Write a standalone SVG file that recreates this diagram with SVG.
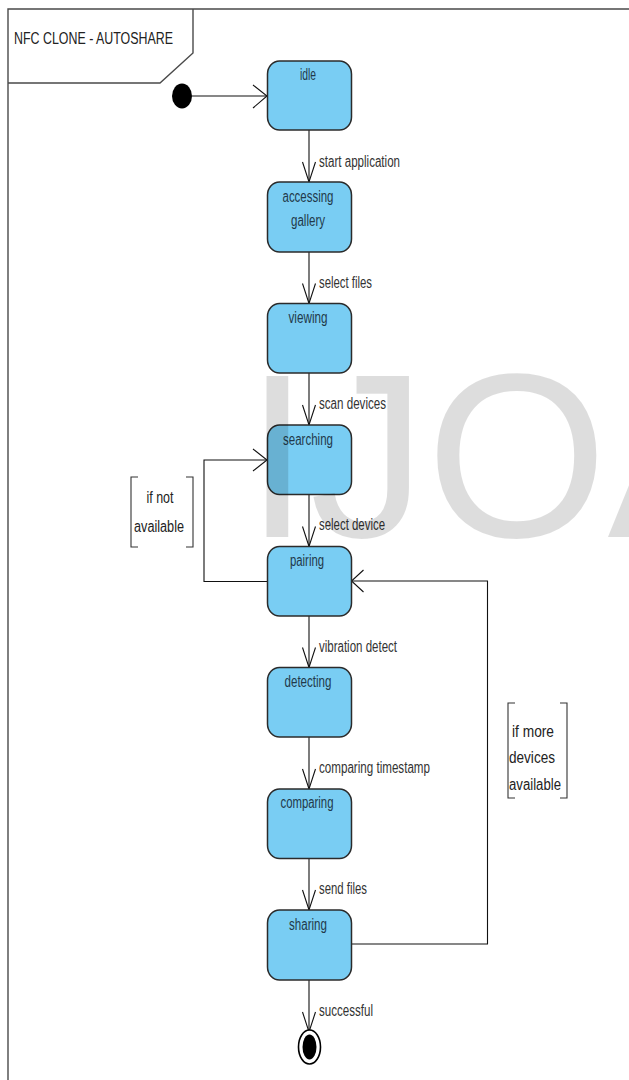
<svg xmlns="http://www.w3.org/2000/svg" width="629" height="1080" viewBox="0 0 629 1080">
<style>
.frame{fill:none;stroke:#4a4a4a;stroke-width:1.4}
.state{fill:#79cdf3;stroke:#2b2b2b;stroke-width:1.5}
.sname{font-family:"Liberation Sans",Arial,sans-serif;font-size:16px;fill:#22394a;text-anchor:middle}
.elabel{font-family:"Liberation Sans",Arial,sans-serif;font-size:16px;fill:#333}
.guard{font-family:"Liberation Sans",Arial,sans-serif;font-size:16px;fill:#222}
.title{font-family:"Liberation Sans",Arial,sans-serif;font-size:16px;fill:#222}
.conn{fill:none;stroke:#111;stroke-width:1.1}
.brk{fill:none;stroke:#333;stroke-width:1.1}
.wm{font-family:"Liberation Sans",Arial,sans-serif;font-size:233px;fill:#000;fill-opacity:0.135}
</style>
<rect width="629" height="1080" fill="#fff"/>
<g id="frame">
<path class="frame" d="M8,1080 L8,9 L629,9"/>
<path class="frame" d="M8,83 L160,83 L193,53 L193,9"/>
<text class="title" x="14" y="44" textLength="159" lengthAdjust="spacingAndGlyphs">NFC CLONE - AUTOSHARE</text>
</g>
<g id="connectors">
<path class="conn" d="M192,96 L267,96"/><path class="conn" d="M253,85 L267,96 L253,108"/>
<path class="conn" d="M309,130 L309,182"/><path class="conn" d="M302.5,162 L309,182 L315.5,162"/>
<path class="conn" d="M309,252 L309,303.5"/><path class="conn" d="M302.5,283.5 L309,303.5 L315.5,283.5"/>
<path class="conn" d="M309,373 L309,425"/><path class="conn" d="M302.5,405 L309,425 L315.5,405"/>
<path class="conn" d="M309,494.5 L309,546.5"/><path class="conn" d="M302.5,526.5 L309,546.5 L315.5,526.5"/>
<path class="conn" d="M309,616 L309,667.5"/><path class="conn" d="M302.5,647.5 L309,667.5 L315.5,647.5"/>
<path class="conn" d="M309,737 L309,789"/><path class="conn" d="M302.5,769 L309,789 L315.5,769"/>
<path class="conn" d="M309,858.5 L309,910"/><path class="conn" d="M302.5,890 L309,910 L315.5,890"/>
<path class="conn" d="M309,980 L309,1032"/><path class="conn" d="M302.5,1012 L309,1032 L315.5,1012"/>
<path class="conn" d="M267,581.5 L204,581.5 L204,460 L267,460"/><path class="conn" d="M253,449 L267,460 L253,471"/>
<path class="conn" d="M351.5,944 L487.5,944 L487.5,581 L351.5,581"/><path class="conn" d="M363.5,570 L351.5,581 L363.5,592"/>
</g>
<g id="initial"><ellipse cx="182" cy="96" rx="10" ry="12.5" fill="#000"/></g>
<g id="idle"><rect class="state" x="267.5" y="61" width="84" height="69" rx="12" ry="13"/><text class="sname" x="308" y="80" textLength="16" lengthAdjust="spacingAndGlyphs">idle</text></g>
<g id="accessing-gallery"><rect class="state" x="267.5" y="182" width="84" height="70" rx="12" ry="13"/><text class="sname" x="308" y="202" textLength="51" lengthAdjust="spacingAndGlyphs">accessing</text><text class="sname" x="308" y="226" textLength="34" lengthAdjust="spacingAndGlyphs">gallery</text></g>
<g id="viewing"><rect class="state" x="267.5" y="303.5" width="84" height="69.5" rx="12" ry="13"/><text class="sname" x="308" y="323" textLength="39" lengthAdjust="spacingAndGlyphs">viewing</text></g>
<g id="searching"><rect class="state" x="267.5" y="425" width="84" height="69.5" rx="12" ry="13"/><text class="sname" x="308" y="445" textLength="50" lengthAdjust="spacingAndGlyphs">searching</text></g>
<g id="pairing"><rect class="state" x="267.5" y="546.5" width="84" height="69.5" rx="12" ry="13"/><text class="sname" x="307" y="566" textLength="34" lengthAdjust="spacingAndGlyphs">pairing</text></g>
<g id="detecting"><rect class="state" x="267.5" y="667.5" width="84" height="69.5" rx="12" ry="13"/><text class="sname" x="308" y="687" textLength="47" lengthAdjust="spacingAndGlyphs">detecting</text></g>
<g id="comparing"><rect class="state" x="267.5" y="789" width="84" height="69.5" rx="12" ry="13"/><text class="sname" x="307" y="808" textLength="53" lengthAdjust="spacingAndGlyphs">comparing</text></g>
<g id="sharing"><rect class="state" x="267.5" y="910" width="84" height="70" rx="12" ry="13"/><text class="sname" x="308" y="930" textLength="38" lengthAdjust="spacingAndGlyphs">sharing</text></g>
<g id="final"><ellipse cx="309.5" cy="1047" rx="11" ry="17" fill="#fff" stroke="#000" stroke-width="1.6"/><ellipse cx="309.5" cy="1047" rx="7" ry="12.5" fill="#000"/></g>
<g id="edge-labels">
<text class="elabel" x="319" y="167" textLength="81" lengthAdjust="spacingAndGlyphs">start application</text>
<text class="elabel" x="319" y="288" textLength="53" lengthAdjust="spacingAndGlyphs">select files</text>
<text class="elabel" x="319" y="409" textLength="67" lengthAdjust="spacingAndGlyphs">scan devices</text>
<text class="elabel" x="319" y="530" textLength="66" lengthAdjust="spacingAndGlyphs">select device</text>
<text class="elabel" x="319" y="652" textLength="78" lengthAdjust="spacingAndGlyphs">vibration detect</text>
<text class="elabel" x="319" y="773" textLength="111" lengthAdjust="spacingAndGlyphs">comparing timestamp</text>
<text class="elabel" x="319" y="894" textLength="48" lengthAdjust="spacingAndGlyphs">send files</text>
<text class="elabel" x="319" y="1016" textLength="54" lengthAdjust="spacingAndGlyphs">successful</text>
</g>
<g id="guard-not-available">
<path class="brk" d="M138,477 L131,477 L131,547 L138,547"/><path class="brk" d="M186,477 L193,477 L193,547 L186,547"/>
<text class="guard" x="160" y="503" text-anchor="middle" textLength="27" lengthAdjust="spacingAndGlyphs">if not</text>
<text class="guard" x="159" y="532" text-anchor="middle" textLength="50" lengthAdjust="spacingAndGlyphs">available</text>
</g>
<g id="guard-more-devices">
<path class="brk" d="M515,703 L508,703 L508,798 L515,798"/><path class="brk" d="M560,703 L567,703 L567,798 L560,798"/>
<text class="guard" x="512" y="737" textLength="42" lengthAdjust="spacingAndGlyphs">if more</text>
<text class="guard" x="509" y="763" textLength="46" lengthAdjust="spacingAndGlyphs">devices</text>
<text class="guard" x="509" y="790" textLength="52" lengthAdjust="spacingAndGlyphs">available</text>
</g>
<text class="wm" x="245" y="537">IJOA</text>
</svg>
